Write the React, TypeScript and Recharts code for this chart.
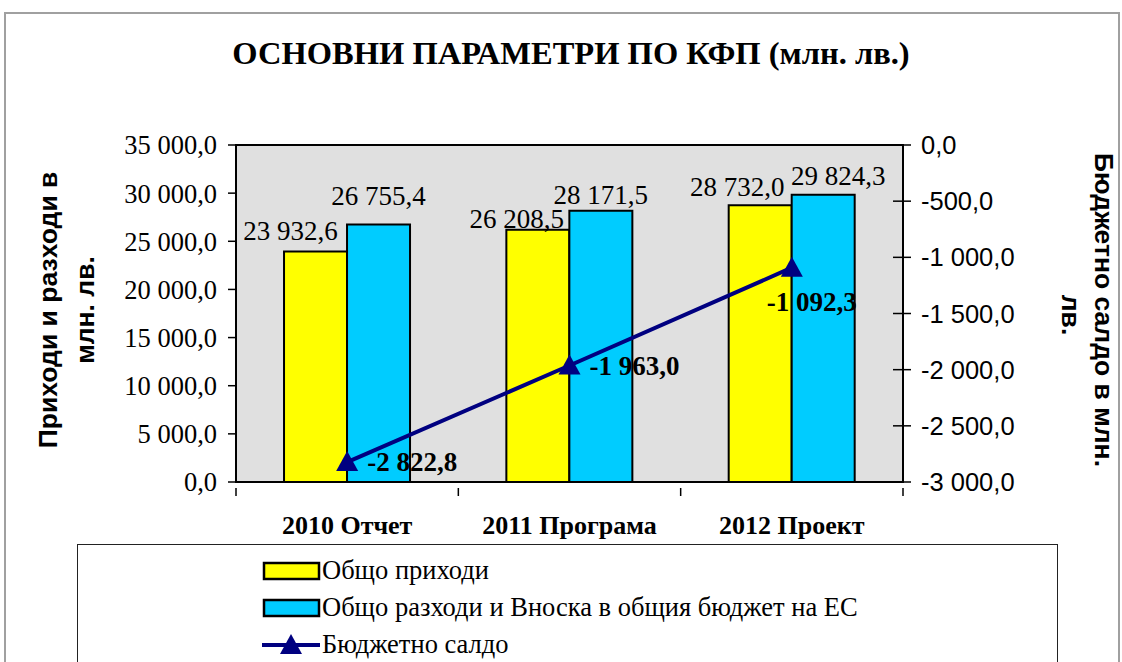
import React from "react"
import {
  ComposedChart,
  Bar,
  Line,
  XAxis,
  YAxis,
  CartesianGrid,
  ReferenceArea,
  LabelList,
  Legend,
} from "recharts"

// данни от графиката
const categories = ["2010 Отчет", "2011 Програма", "2012 Проект"]
const revenues = [23932.6, 26208.5, 28732.0]
const expenditures = [26755.4, 28171.5, 29824.3]
const balance = [-2822.8, -1963.0, -1092.3]
const leftTicks = [0, 5000, 10000, 15000, 20000, 25000, 30000, 35000]
const rightTicks = [-3000, -2500, -2000, -1500, -1000, -500, 0]

const seriesNames = {
  revenues: "Общо приходи",
  expenditures: "Общо разходи и Вноска в общия бюджет на ЕС",
  balance: "Бюджетно салдо",
}

const chartData = categories.map((name, i) => ({
  name,
  revenues: revenues[i],
  expenditures: expenditures[i],
  balance: balance[i],
}))

const SERIF = "'Liberation Serif', 'Times New Roman', serif"
const SANS = "'Liberation Sans', Arial, sans-serif"
const YELLOW = "#ffff00"
const CYAN = "#00ccff"
const NAVY = "#000080"

// изместване на етикетите както в оригинала
const revLabelShift = [
  [-25, 12],
  [-21, 2],
  [-23, 9],
]
const expLabelShift = [
  [0, 19],
  [0, 7],
  [15, 10],
]

function fmt(v: number) {
  const [int, dec] = Math.abs(v).toFixed(1).split(".")
  return (v < 0 ? "-" : "") + int.replace(/\B(?=(\d{3})+(?!\d))/g, " ") + "," + dec
}

function barLabel(shift: number[][]) {
  return (props: any) => {
    const { x, y, width, value, index } = props
    const [dx, up] = shift[index] || [0, 8]
    return (
      <text x={x + width / 2 + dx} y={y - up} textAnchor="middle" fontFamily={SERIF} fontSize={27} fill="#000">
        {fmt(Number(value))}
      </text>
    )
  }
}

function Triangle(props: any) {
  const { cx, cy, index } = props
  if (cx == null || cy == null) return null
  return <path key={index} d={`M${cx},${cy - 11} L${cx + 11},${cy + 9} L${cx - 11},${cy + 9} Z`} fill={NAVY} />
}

function BalanceLabel(props: any) {
  const { x, y, value, index } = props
  // последният етикет е под точката
  const last = index === balance.length - 1
  return (
    <text
      x={last ? x - 25 : x + 20}
      y={last ? y + 43 : y + 9}
      fontFamily={SERIF}
      fontWeight="bold"
      fontSize={27}
      fill="#000"
    >
      {fmt(value)}
    </text>
  )
}

function CategoryTick(props: any) {
  const { x, y, payload, index, width, visibleTicksCount } = props
  const band = width && visibleTicksCount ? width / visibleTicksCount : 222.3
  const top = y - 30
  return (
    <g>
      <line x1={x + band / 2} y1={top} x2={x + band / 2} y2={top + 8} stroke="#000" strokeWidth={1.5} />
      {index === 0 && <line x1={x - band / 2} y1={top} x2={x - band / 2} y2={top + 8} stroke="#000" strokeWidth={1.5} />}
      <text x={x} y={y + 16} textAnchor="middle" fontFamily={SERIF} fontWeight="bold" fontSize={26} fill="#000">
        {payload.value}
      </text>
    </g>
  )
}

// десните деления пресичат оста
function RightTick(props: any) {
  const { x, y, payload } = props
  return (
    <g>
      <line x1={x - 28} y1={y} x2={x - 10} y2={y} stroke="#000" strokeWidth={1.5} />
      <text x={x} y={y + 9} fontFamily={SANS} fontSize={25.5} fill="#000">
        {fmt(payload.value)}
      </text>
    </g>
  )
}

function LegendBox() {
  const row = { display: "flex", alignItems: "center", height: 37 } as const
  const swatch = (fill: string) => (
    <svg width={60} height={20}>
      <rect x={2} y={2} width={55} height={16} fill={fill} stroke="#000" strokeWidth={2.5} />
    </svg>
  )
  return (
    <div style={{ paddingLeft: 184, paddingTop: 7, fontFamily: SERIF, fontSize: 26.5, color: "#000", lineHeight: 1 }}>
      <div style={row}>
        {swatch(YELLOW)}
        <span>{seriesNames.revenues}</span>
      </div>
      <div style={row}>
        {swatch(CYAN)}
        <span>{seriesNames.expenditures}</span>
      </div>
      <div style={row}>
        <svg width={60} height={22}>
          <line x1={0} y1={11} x2={58} y2={11} stroke={NAVY} strokeWidth={4} />
          <path d="M29,0 L40,20 L18,20 Z" fill={NAVY} />
        </svg>
        <span>{seriesNames.balance}</span>
      </div>
    </div>
  )
}

export default function App() {
  return (
    <div style={{ position: "absolute", left: 0, top: 0, width: 1122, height: 662, background: "#fff", overflow: "hidden" }}>
      <div
        style={{
          position: "absolute",
          left: 4,
          top: 12,
          width: 1112,
          height: 700,
          border: "2px solid #a0a0a0",
        }}
      />
      <div
        style={{
          position: "absolute",
          top: 35,
          left: 0,
          width: 1142,
          textAlign: "center",
          fontFamily: SERIF,
          fontWeight: "bold",
          fontSize: 32.5,
        }}
      >
        ОСНОВНИ ПАРАМЕТРИ ПО КФП (млн. лв.)
      </div>
      <div style={{ position: "absolute", left: 0, top: 0 }}>
        <ComposedChart
          width={1122}
          height={662}
          data={chartData}
          margin={{ top: 145, right: 99, bottom: 140, left: 100 }}
          barCategoryGap="21.6%"
          barGap={0}
        >
          <CartesianGrid yAxisId="left" fill="#e0e0e0" horizontal={false} vertical={false} />
          <XAxis
            dataKey="name"
            tickLine={false}
            axisLine={{ stroke: "#000", strokeWidth: 2 }}
            height={40}
            tickMargin={30}
            tick={CategoryTick}
          />
          <YAxis
            yAxisId="left"
            domain={[0, 35000]}
            ticks={leftTicks}
            width={136}
            tickFormatter={fmt}
            tickSize={8}
            tickMargin={11}
            axisLine={{ stroke: "#000", strokeWidth: 2 }}
            tickLine={{ stroke: "#000", strokeWidth: 1.5 }}
            tick={{ fontFamily: SERIF, fontSize: 26.5, fill: "#000" }}
          />
          <YAxis
            yAxisId="right"
            orientation="right"
            domain={[-3000, 0]}
            ticks={rightTicks}
            width={120}
            tickSize={8}
            tickMargin={10}
            axisLine={{ stroke: "#000", strokeWidth: 2 }}
            tickLine={false}
            tick={RightTick}
          />
          <ReferenceArea yAxisId="left" y1={0} y2={35000} fill="none" stroke="#000" strokeWidth={2} />
          <Bar
            yAxisId="left"
            dataKey="revenues"
            name={seriesNames.revenues}
            fill={YELLOW}
            stroke="#000"
            strokeWidth={2}
            isAnimationActive={false}
          >
            <LabelList dataKey="revenues" content={barLabel(revLabelShift)} />
          </Bar>
          <Bar
            yAxisId="left"
            dataKey="expenditures"
            name={seriesNames.expenditures}
            fill={CYAN}
            stroke="#000"
            strokeWidth={2}
            isAnimationActive={false}
          >
            <LabelList dataKey="expenditures" content={barLabel(expLabelShift)} />
          </Bar>
          <Line
            yAxisId="right"
            dataKey="balance"
            name={seriesNames.balance}
            stroke={NAVY}
            strokeWidth={4}
            dot={Triangle}
            activeDot={false}
            isAnimationActive={false}
          >
            <LabelList dataKey="balance" content={BalanceLabel} />
          </Line>
          <Legend
            layout="vertical"
            align="center"
            verticalAlign="middle"
            content={() => <LegendBox />}
            wrapperStyle={{
              left: 77,
              top: 544,
              width: 981,
              height: 140,
              border: "1.5px solid #222",
              background: "#fff",
              boxSizing: "border-box",
            }}
          />
        </ComposedChart>
      </div>
      <svg width={1122} height={662} style={{ position: "absolute", left: 0, top: 0, pointerEvents: "none" }}>
        <g fontFamily={SANS} fontWeight="bold" fontSize={26.5} fill="#000" textAnchor="middle">
          <text transform="translate(57,310) rotate(-90)">Приходи и разходи в</text>
          <text transform="translate(94,310) rotate(-90)">млн. лв.</text>
          <text transform="translate(1095,310) rotate(90)">Бюджетно салдо в млн.</text>
          <text transform="translate(1062,315) rotate(90)">лв.</text>
        </g>
      </svg>
    </div>
  )
}
